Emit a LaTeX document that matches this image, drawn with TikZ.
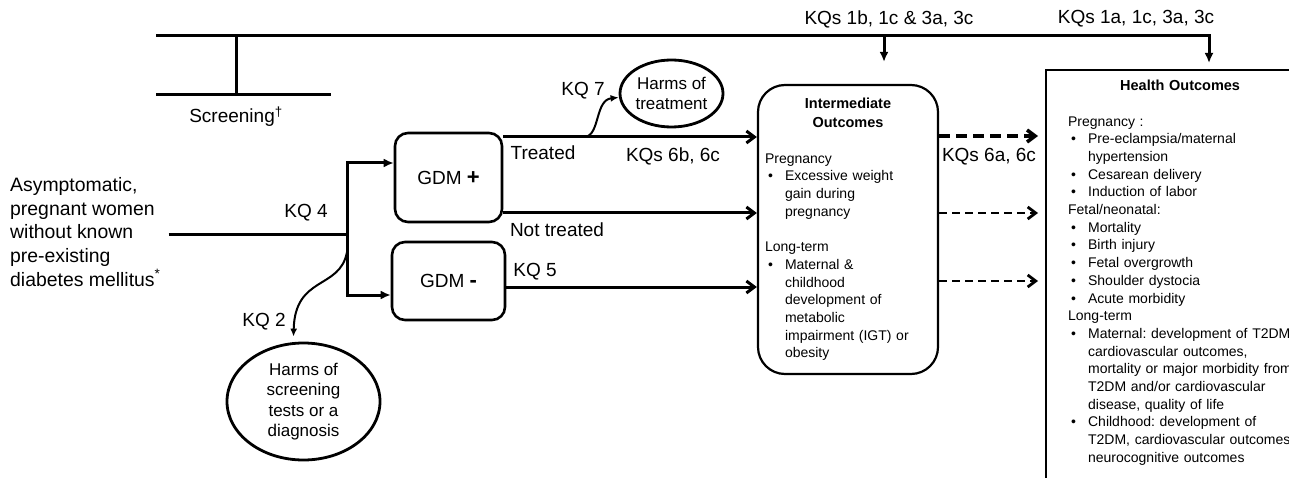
\documentclass[tikz,border=0pt]{standalone}
\usepackage{fontspec}
\setmainfont{Liberation Sans}
\usetikzlibrary{arrows.meta}
\usetikzlibrary{shapes.geometric}
\frenchspacing

% bullet line with hanging indent
\newcommand{\bul}[1]{\par\hangindent=20pt\hangafter=1\noindent\makebox[20pt][l]{\hspace{3pt}\textbullet}#1}

\begin{document}
\begin{tikzpicture}[x=1pt,y=-1pt,
  every node/.style={font=\fontsize{19}{23.7}\selectfont},
  lw/.style={line width=3pt},
  arr/.style={lw,-{Latex[length=10pt,width=9pt]}},
  barb/.style={lw,-{Straight Barb[length=8pt,width=12pt]}},
  dasha/.style={barb,line width=3.6pt,dash pattern=on 11pt off 6pt},
  dashb/.style={barb,line width=2.8pt,dash pattern=on 8pt off 5pt},
  gdm/.style={draw,rounded corners=13pt,line width=2.6pt},
  harm/.style={draw,ellipse,line width=2.8pt,inner sep=0pt,align=center,font=\fontsize{17}{20.5}\selectfont},
  ibox/.style={draw,rounded corners=27pt,line width=2.2pt,minimum width=180pt,minimum height=289pt,
    text width=166pt,inner xsep=7pt,align=left,font=\fontsize{14}{17.7}\selectfont},
  hbox/.style={draw,line width=2.2pt,text width=270pt,inner xsep=22pt,inner ysep=10pt,
    align=left,anchor=north west,font=\fontsize{14}{17.7}\selectfont}]
\useasboundingbox (0,0) rectangle (1289,478);
\clip (0,0) rectangle (1289,478);

\node[align=left,anchor=west,inner sep=0pt,font=\fontsize{19.4}{23.7}\selectfont] (pop) at (10,232)
  {Asymptomatic,\\pregnant women\\without known\\pre-existing\\diabetes mellitus\textsuperscript{*}};
\node[gdm,minimum width=107pt,minimum height=89pt] (gdmp) at (448.5,177.5) {GDM {\bfseries\fontsize{22}{22}\selectfont +}};
\node[gdm,minimum width=113pt,minimum height=78pt] (gdmm) at (448.5,281) {GDM {\bfseries\fontsize{22}{22}\selectfont -}};
\node[harm,minimum width=103pt,minimum height=67pt] (htreat) at (671.5,93.5) {Harms of\\treatment};
\node[harm,minimum width=153pt,minimum height=117pt] (hscreen) at (303.5,401.5) {Harms of\\screening\\tests or a\\diagnosis};

\node[ibox] (inter) at (848,229.5) {%
  {\centering\bfseries\fontsize{14.5}{19}\selectfont Intermediate\\Outcomes\par}
  \vspace{18pt}
  Pregnancy
  \bul{Excessive weight\newline gain during\newline pregnancy}
  \par\vspace{17.7pt}
  Long-term
  \bul{Maternal \&\newline childhood\newline development of\newline metabolic\newline impairment (IGT) or\newline obesity}\par};

\node[hbox] (health) at (1045,69) {%
  \makebox[224pt]{\bfseries\fontsize{14.5}{17.7}\selectfont Health Outcomes}\par
  \vspace{17.7pt}
  Pregnancy :
  \bul{Pre-eclampsia/maternal\newline hypertension}
  \bul{Cesarean delivery}
  \bul{Induction of labor}
  \par Fetal/neonatal:
  \bul{Mortality}
  \bul{Birth injury}
  \bul{Fetal overgrowth}
  \bul{Shoulder dystocia}
  \bul{Acute morbidity}
  \par Long-term
  \bul{Maternal: development of T2DM,\newline cardiovascular outcomes,\newline mortality or major morbidity from\newline T2DM and/or cardiovascular\newline disease, quality of life}
  \bul{Childhood: development of\newline T2DM, cardiovascular outcomes,\newline neurocognitive outcomes}
  \par\rule{0pt}{40pt}};

\node (scr) at (236,117) {Screening\textsuperscript{\textdagger}};
\node (kq4) at (306,213) {KQ 4};
\node (kq2) at (264,322) {KQ 2};
\node (kq7) at (583,91) {KQ 7};
\node (treat) at (543,153) {Treated};
\node (kqsix) at (673,156) {KQs 6b, 6c};
\node (nottreat) at (557,230) {Not treated};
\node (kq5) at (535,272) {KQ 5};
\node (kqsixa) at (989,157) {KQs 6a, 6c};
\node (kqoneb) at (889,19) {KQs 1b, 1c \& 3a, 3c};
\node (kqonea) at (1136,19) {KQs 1a, 1c, 3a, 3c};

% screening bar and key question arrows
\coordinate (tl) at (156,36);
\coordinate (tc) at (1209,36);
\coordinate (ia) at (884,36);
\coordinate (sc) at (236,36);
\coordinate (bl) at (156,95);
\coordinate (br) at (331,95);
\draw[arr,shorten >=6pt] (tl) -- (tc) -- (tc |- health.north);
\draw[arr,shorten >=22pt] (ia) -- (ia |- inter.north);
\draw[lw] (sc) -- (sc |- bl);
\draw[lw] (bl) -- (br);

\coordinate (split) at (347,235);
\coordinate (up) at (347,163);
\coordinate (dn) at (347,295);
\draw[lw] ([xshift=8pt]pop.east |- split) -- (split);
\draw[lw,{Latex[length=10pt,width=9pt]}-{Latex[length=10pt,width=9pt]}]
  (up -| gdmp.west) -- (up) -- (dn) -- (dn -| gdmm.west);
\draw[line width=2pt,-{Latex[length=8pt,width=7pt]}]
  ([yshift=-17pt]split) .. controls (340,290) and (295,275) .. ([xshift=-10pt,yshift=5pt]hscreen.north);

\coordinate (ytr) at (0,137);
\coordinate (ynt) at (0,213);
\coordinate (yk5) at (0,287);
\draw[barb] (gdmp.east |- ytr) -- (inter.west |- ytr);
\draw[barb] (gdmp.east |- ynt) -- (inter.west |- ynt);
\draw[barb] (gdmm.east |- yk5) -- (inter.west |- yk5);
\draw[line width=2pt,-{Latex[length=8pt,width=7pt]}]
  (585,137) .. controls (600,135) and (595,100) .. ([yshift=-4pt]htreat.west);

\draw[dasha,shorten >=7pt] (inter.east |- 0,136) -- (health.west |- 0,136);
\draw[dashb,shorten >=7pt] (inter.east |- ynt) -- (health.west |- ynt);
\draw[dashb,shorten >=7pt] (inter.east |- 0,281) -- (health.west |- 0,281);
\end{tikzpicture}
\end{document}
